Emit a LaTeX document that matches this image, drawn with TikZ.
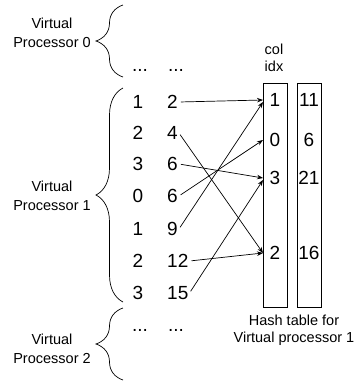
\documentclass[tikz,border=0pt]{standalone}
\usepackage{fontspec}
\setmainfont{Liberation Sans}
\usetikzlibrary{decorations.pathreplacing,arrows.meta}
\begin{document}
\begin{tikzpicture}[x=1pt,y=-1pt,
 lbl/.style={font=\fontsize{14.5}{19}\selectfont, align=center, inner sep=0},
 num/.style={font=\fontsize{19}{21}\selectfont, inner sep=1pt},
 val/.style={num, anchor=west},
 br/.style={decorate, decoration={brace, amplitude=27pt}, line width=0.7pt},
 arr/.style={-{Stealth[length=6pt,width=4.5pt]}, line width=0.7pt, shorten <=2pt},
 tbl/.style={draw, line width=0.7pt, minimum width=24pt, minimum height=224pt, inner sep=0, anchor=north west}]
\useasboundingbox (0,0) rectangle (357,384);
% braces
\draw[br] (123,77) -- (123,5);
\draw[br] (123,302) -- (123,88);
\draw[br] (123,380) -- (123,308);
% processor labels
\node[lbl] (vp0) at (52,33) {Virtual\\Processor 0};
\node[lbl] (vp1) at (52,196) {Virtual\\Processor 1};
\node[lbl] (vp2) at (52,349) {Virtual\\Processor 2};
% dots
\node[num] (d0a) at (140,70) {...};
\node[num] (d0b) at (176,70) {...};
\node[num] (d2a) at (140,330) {...};
\node[num] (d2b) at (176,330) {...};
% rows
\node[num] (r1a) at (138,102) {1}; \node[val] (r1b) at (166,102) {2};
\node[num] (r2a) at (138,133) {2}; \node[val] (r2b) at (166,133) {4};
\node[num] (r3a) at (138,164) {3}; \node[val] (r3b) at (166,164) {6};
\node[num] (r4a) at (138,196) {0}; \node[val] (r4b) at (166,196) {6};
\node[num] (r5a) at (138,229) {1}; \node[val] (r5b) at (166,229) {9};
\node[num] (r6a) at (138,261) {2}; \node[val] (r6b) at (166,261) {12};
\node[num] (r7a) at (138,293) {3}; \node[val] (r7b) at (166,293) {15};
% tables
\node[tbl] (c1) at (263,83) {};
\node[tbl] (c2) at (297,83) {};
\node[lbl, font=\fontsize{14.5}{16.5}\selectfont] (cidx) at (274,58) {col\\idx};
\node[lbl, font=\fontsize{14.5}{16.5}\selectfont] (hash) at (294,330) {Hash table for\\Virtual processor 1};
\node[num] (e1) at (275,100) {1}; \node[num] (v1) at (309,100) {11};
\node[num] (e0) at (275,140) {0}; \node[num] (v0) at (309,140) {6};
\node[num] (e3) at (275,178) {3}; \node[num] (v3) at (309,178) {21};
\node[num] (e2) at (275,253) {2}; \node[num] (v2) at (309,253) {16};
% arrows
\draw[arr] (r1b.east) -- (c1.west |- e1);
\draw[arr] (r2b.east) -- (c1.west |- e2);
\draw[arr] (r3b.east) -- (c1.west |- e3);
\draw[arr] (r4b.east) -- (c1.west |- e0);
\draw[arr] (r5b.east) -- ([yshift=-2pt]c1.west |- e1);
\draw[arr] (r6b.east) -- (c1.west |- e2);
\draw[arr] (r7b.east) -- ([yshift=-2pt]c1.west |- e3);
\end{tikzpicture}
\end{document}
